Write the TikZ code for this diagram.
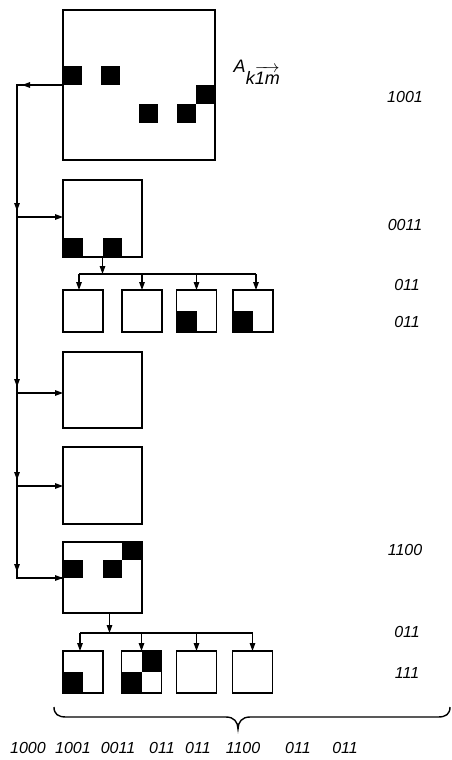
\documentclass[tikz,border=0pt]{standalone}
\usepackage{fontspec}
\setmainfont{Liberation Sans}
\usetikzlibrary{arrows.meta,calc}
\newcommand\qcell[5]{\fill ($(#1.north west)+({#2*#4},{#3*#5})$) rectangle ++(#4,#5);}
\begin{document}
\begin{tikzpicture}[x=1pt,y=-1pt,
  box/.style={draw, line width=1.6pt, inner sep=0pt, outer sep=0pt},
  conn/.style={line width=1.3pt},
  tip/.style={-{Triangle[length=8pt,width=5.5pt]}},
  lab/.style={font=\fontsize{16}{16}\selectfont\itshape, inner sep=0pt}]
\useasboundingbox (0,0) rectangle (452,760);
% boxes
\node[box, minimum width=152pt, minimum height=150pt] (A) at (139,85) {};
\node[box, minimum width=79pt, minimum height=77pt] (b2) at (102.5,218.5) {};
\node[box, minimum width=40pt, minimum height=42pt] (s1) at (83,311) {};
\node[box, minimum width=40pt, minimum height=42pt] (s2) at (142,311) {};
\node[box, minimum width=40pt, minimum height=42pt] (s3) at (196.5,311) {};
\node[box, minimum width=40pt, minimum height=42pt] (s4) at (253,311) {};
\node[box, minimum width=79pt, minimum height=76pt] (b3) at (102.5,390) {};
\node[box, minimum width=79pt, minimum height=77pt] (b4) at (102.5,485.5) {};
\node[box, minimum width=79pt, minimum height=71pt] (b5) at (102.5,577.5) {};
\node[box, minimum width=40pt, minimum height=42pt] (t1) at (83,672) {};
\node[box, minimum width=40pt, minimum height=42pt] (t2) at (141.5,672) {};
\node[box, minimum width=40pt, minimum height=42pt] (t3) at (196.5,672) {};
\node[box, minimum width=40pt, minimum height=42pt] (t4) at (252.5,672) {};
% black cells
\qcell{A}{0}{3}{19}{18.75}
\qcell{A}{2}{3}{19}{18.75}
\qcell{A}{4}{5}{19}{18.75}
\qcell{A}{6}{5}{19}{18.75}
\qcell{A}{7}{4}{19}{18.75}
\qcell{b2}{0}{3}{19.75}{19.25}
\qcell{b2}{2}{3}{19.75}{19.25}
\qcell{b5}{0}{1}{19.75}{17.75}
\qcell{b5}{2}{1}{19.75}{17.75}
\qcell{b5}{3}{0}{19.75}{17.75}
\fill (s3.south west) rectangle (s3.center);
\fill (s4.south west) rectangle (s4.center);
\fill (t1.south west) rectangle (t1.center);
\fill (t2.south west) rectangle (t2.center);
\fill (t2.center) rectangle (t2.north east);
% redraw box borders over fills
\foreach \n in {A,b2,s3,s4,b5,t1,t2} {\draw[line width=1.6pt] (\n.north west) rectangle (\n.south east);}
% left bus
\coordinate (c0) at (17,85);
\coordinate (c1) at (17,217);
\coordinate (c2) at (17,393);
\coordinate (c3) at (17,486);
\coordinate (c4) at (17,578);
\draw[conn, line join=miter] (A.west) -- (c0) -- (c4) -- (c4 -| b5.west);
\draw[conn, tip, shorten >=5pt] (A.west) -- (c0);
\draw[conn, tip, shorten >=6pt] (c0) -- (c1);
\draw[conn, tip, shorten >=6pt] (c1) -- (c2);
\draw[conn, tip, shorten >=6pt] (c2) -- (c3);
\draw[conn, tip, shorten >=6pt] (c3) -- (c4);
\draw[conn, tip] (c1) -- (c1 -| b2.west);
\draw[conn, tip] (c2) -- (c2 -| b3.west);
\draw[conn, tip] (c3) -- (c3 -| b4.west);
\draw[conn, tip] (c4) -- (c4 -| b5.west);
% tree 1
\coordinate (j1) at (0,274);
\draw[conn, tip] (b2.south) -- (b2.south |- j1);
\draw[conn] ([xshift=-4pt]s1.north |- j1) -- ([xshift=3pt]s4.north |- j1);
\draw[conn, tip] ([xshift=-4pt]s1.north |- j1) -- ([xshift=-4pt]s1.north);
\draw[conn, tip] (s2.north |- j1) -- (s2.north);
\draw[conn, tip] (s3.north |- j1) -- (s3.north);
\draw[conn, tip] ([xshift=3pt]s4.north |- j1) -- ([xshift=3pt]s4.north);
% tree 2
\coordinate (j2) at (0,633);
\draw[conn, tip] ([xshift=7pt]b5.south) -- ([xshift=7pt]b5.south |- j2);
\draw[conn] ([xshift=-3pt]t1.north |- j2) -- (t4.north |- j2);
\draw[conn, tip] ([xshift=-3pt]t1.north |- j2) -- ([xshift=-3pt]t1.north);
\draw[conn, tip] (t2.north |- j2) -- (t2.north);
\draw[conn, tip] (t3.north |- j2) -- (t3.north);
\draw[conn, tip] (t4.north |- j2) -- (t4.north);
% brace
\draw[line width=1.4pt] (54,707) .. controls (54,714) and (58,717) .. (66,717) -- (226,717)
  .. controls (234,717) and (238,722) .. (238,729)
  .. controls (238,722) and (242,717) .. (250,717) -- (438,717)
  .. controls (446,717) and (450,714) .. (450,707);
% label A
\node[inner sep=0pt, font=\fontsize{18}{18}\selectfont] (Alab) at (257,72) {\textit{A}$_{\textit{k}\overrightarrow{\textit{1m}}}$};
% right labels
\node[lab] (r1) at (405,97) {1001};
\node[lab] (r2) at (405,225) {0011};
\node[lab] (r3) at (407,285) {011};
\node[lab] (r4) at (407,322) {011};
\node[lab] (r5) at (405,550) {1100};
\node[lab] (r6) at (407,632) {011};
\node[lab] (r7) at (407,673) {111};
% bottom labels
\node[lab] (q1) at (28,748) {1000};
\node[lab] (q2) at (73,748) {1001};
\node[lab] (q3) at (118,748) {0011};
\node[lab] (q4) at (162,748) {011};
\node[lab] (q5) at (198,748) {011};
\node[lab] (q6) at (243,748) {1100};
\node[lab] (q7) at (298,748) {011};
\node[lab] (q8) at (345,748) {011};
\end{tikzpicture}
\end{document}
